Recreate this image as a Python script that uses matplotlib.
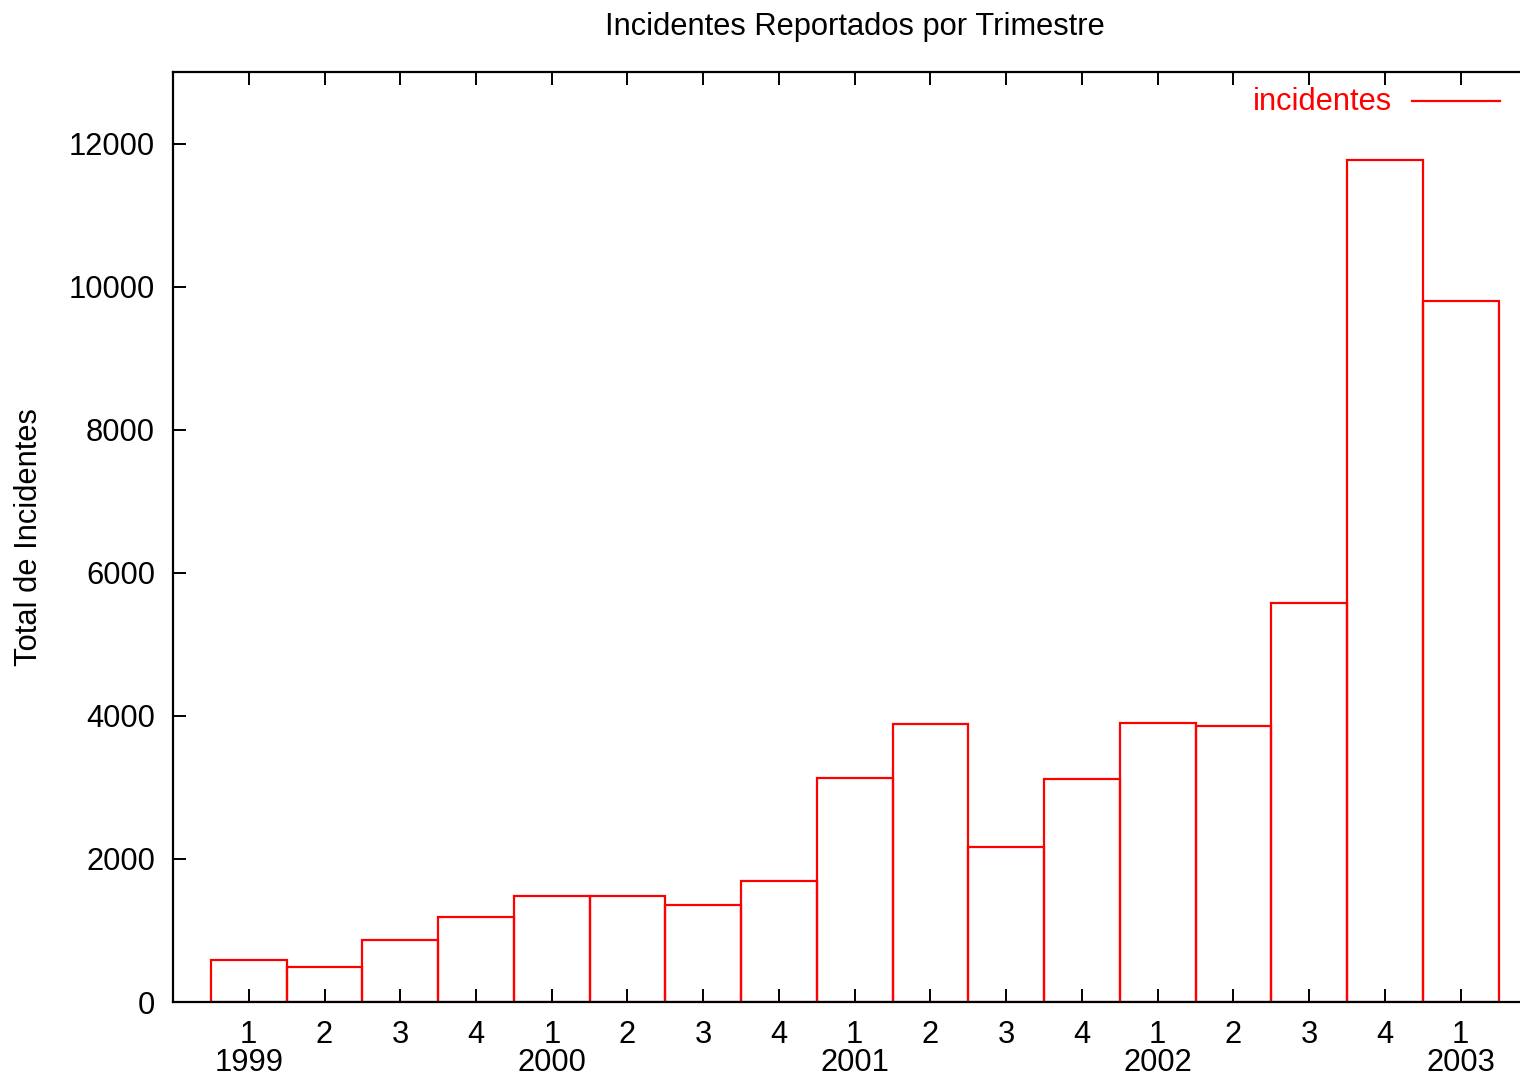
import matplotlib
matplotlib.use("Agg")
import matplotlib.pyplot as plt
from matplotlib.lines import Line2D

plt.rcParams['font.family'] = ['Liberation Sans', 'DejaVu Sans']

quarters = ["1", "2", "3", "4", "1", "2", "3", "4", "1", "2", "3", "4",
            "1", "2", "3", "4", "1"]
years = ["1999", "", "", "", "2000", "", "", "", "2001", "", "", "",
         "2002", "", "", "", "2003"]
incidentes = [587, 490, 867, 1189, 1478, 1478, 1357, 1697, 3137, 3888,
              2172, 3114, 3897, 3855, 5580, 11766, 9804]
yticks = [0, 2000, 4000, 6000, 8000, 10000, 12000]

W, H = 1520, 1076
FS = 22.2
SP = 75.75  # px per unit
fig = plt.figure(figsize=(W / 100, H / 100), dpi=100)
ax = fig.add_axes([173 / W, 1 - 1002 / H, 1 - 173 / W, (1002 - 72) / H])

x = list(range(1, len(incidentes) + 1))
ax.bar(x, incidentes, width=1.0, fill=False, edgecolor='#ff0000', linewidth=1.6)

ax.set_xlim(0, (W - 173) / SP)
ax.set_ylim(0, 13000)
ax.set_xticks(x)
ax.set_xticklabels(quarters, fontsize=FS)
ax.set_yticks(yticks)
ax.set_yticklabels([str(v) for v in yticks], fontsize=FS)
ax.tick_params(axis='x', direction='in', length=9.5, width=1.4, top=True, pad=13)
ax.tick_params(axis='y', direction='in', length=9.5, width=1.4, pad=13)
for s in ['left', 'top', 'bottom']:
    ax.spines[s].set_linewidth(1.6)
ax.spines['right'].set_visible(False)

# year labels under the quarter labels
ytrans = ax.get_xaxis_transform()
for xi, yr in zip(x, years):
    if yr:
        ax.text(xi, -(1071 - 1002) / 930, yr, transform=ytrans, fontsize=FS,
                ha='center', va='baseline', clip_on=False)

ax.set_ylabel("Total de Incidentes", fontsize=FS)
ax.yaxis.set_label_coords(-(173 - 44) / (W - 173), 0.5)
fig.text(855 / W, 1 - 27 / H, "Incidentes Reportados por Trimestre",
         ha='center', va='center', fontsize=FS)

# legend (gnuplot style)
ly = 13000 * (1002 - 102) / 930
ax.text((1392 - 173) / SP, ly, "incidentes",
        color='#ff0000', fontsize=FS, ha='right', va='center')
ax.add_line(Line2D([(1412 - 173) / SP, (1500 - 173) / SP], [ly + 15, ly + 15],
                   color='#ff0000', linewidth=1.6))

fig.savefig("out.png", dpi=100)
